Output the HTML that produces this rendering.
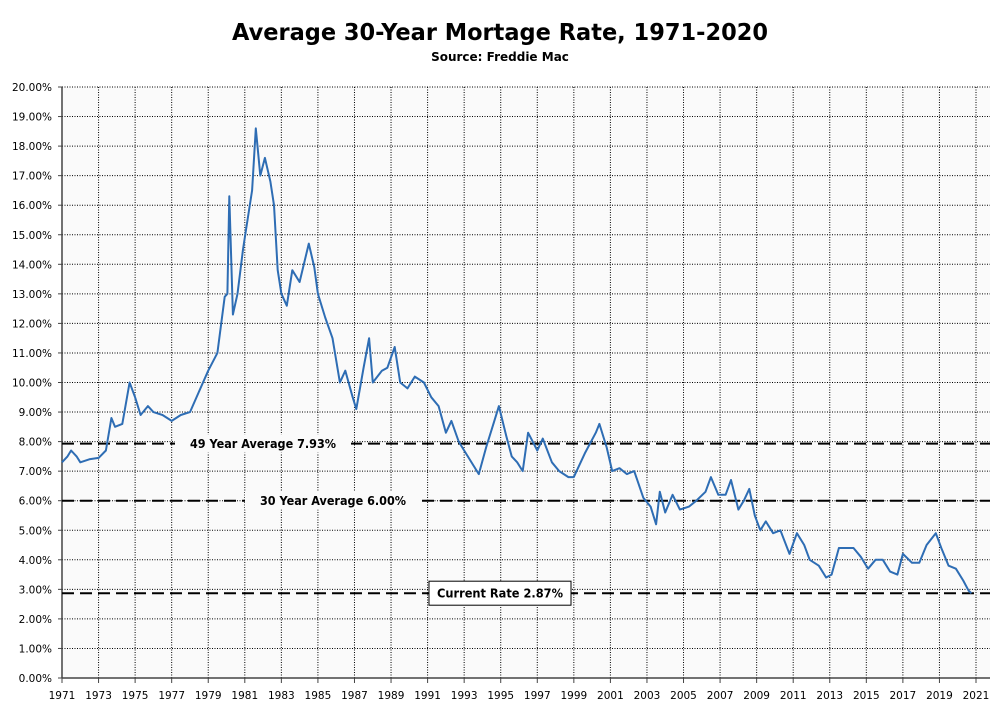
<!DOCTYPE html>
<html><head><meta charset="utf-8"><style>
body{margin:0;background:#fff;}
svg text{font-family:"DejaVu Sans","Liberation Sans",sans-serif;}
</style></head><body>
<svg id="chart" width="1000" height="710" viewBox="0 0 1000 710" xmlns="http://www.w3.org/2000/svg">
<text x="500" y="40" text-anchor="middle" font-size="23" font-weight="bold" textLength="536" lengthAdjust="spacingAndGlyphs">Average 30-Year Mortage Rate, 1971-2020</text>
<text x="500" y="61" text-anchor="middle" font-size="12" font-weight="bold">Source: Freddie Mac</text>
<rect x="62" y="87" width="928" height="591" fill="#fafafa"/>
<g id="grid"></g><g id="axes"></g><g id="refs"></g><g id="series"></g><g id="labels"></g>
</svg>
<script>
const years=[1971.0,1971.3,1971.5,1971.8,1972.0,1972.5,1973.0,1973.4,1973.7,1973.9,1974.3,1974.7,1975.0,1975.3,1975.7,1976.0,1976.5,1977.0,1977.5,1978.0,1978.5,1979.0,1979.5,1979.9,1980.05,1980.15,1980.35,1980.6,1980.9,1981.1,1981.4,1981.6,1981.85,1982.1,1982.4,1982.6,1982.8,1983.0,1983.3,1983.6,1984.0,1984.5,1984.8,1985.0,1985.4,1985.8,1986.2,1986.5,1986.9,1987.1,1987.5,1987.8,1988.0,1988.5,1988.8,1989.2,1989.5,1989.9,1990.3,1990.8,1991.2,1991.6,1992.0,1992.3,1992.7,1993.2,1993.8,1994.2,1994.6,1994.9,1995.3,1995.6,1995.9,1996.2,1996.5,1997.0,1997.3,1997.8,1998.2,1998.7,1999.0,1999.6,2000.2,2000.4,2000.8,2001.1,2001.5,2001.9,2002.3,2002.8,2003.2,2003.5,2003.7,2004.0,2004.4,2004.8,2005.3,2005.7,2006.2,2006.5,2006.9,2007.3,2007.6,2008.0,2008.3,2008.6,2008.9,2009.2,2009.5,2009.9,2010.3,2010.8,2011.2,2011.6,2011.9,2012.4,2012.8,2013.1,2013.5,2013.9,2014.3,2014.7,2015.1,2015.5,2015.9,2016.3,2016.7,2017.0,2017.5,2017.9,2018.3,2018.8,2019.1,2019.5,2019.9,2020.3,2020.6,2020.75];
const rates=[7.3,7.5,7.7,7.5,7.3,7.4,7.45,7.7,8.8,8.5,8.6,10.0,9.5,8.9,9.2,9.0,8.9,8.7,8.9,9.0,9.7,10.4,11.0,12.9,13.0,16.3,12.3,13.0,14.5,15.3,16.5,18.6,17.0,17.6,16.8,16.0,13.8,13.0,12.6,13.8,13.4,14.7,13.9,13.0,12.2,11.5,10.0,10.4,9.5,9.1,10.5,11.5,10.0,10.4,10.5,11.2,10.0,9.8,10.2,10.0,9.5,9.2,8.3,8.7,8.0,7.5,6.9,7.8,8.6,9.2,8.2,7.5,7.3,7.0,8.3,7.7,8.1,7.3,7.0,6.8,6.8,7.6,8.3,8.6,7.8,7.0,7.1,6.9,7.0,6.1,5.8,5.2,6.3,5.6,6.2,5.7,5.8,6.0,6.3,6.8,6.2,6.2,6.7,5.7,6.0,6.4,5.5,5.0,5.3,4.9,5.0,4.2,4.9,4.5,4.0,3.8,3.4,3.5,4.4,4.4,4.4,4.1,3.7,4.0,4.0,3.6,3.5,4.2,3.9,3.9,4.5,4.9,4.4,3.8,3.7,3.3,2.95,2.87];
const yTicks=[0,1,2,3,4,5,6,7,8,9,10,11,12,13,14,15,16,17,18,19,20];
const xTicks=[1971,1973,1975,1977,1979,1981,1983,1985,1987,1989,1991,1993,1995,1997,1999,2001,2003,2005,2007,2009,2011,2013,2015,2017,2019,2021];
const refValues=[7.93,6.00,2.87];
const refLabels=["49 Year Average 7.93%","30 Year Average 6.00%","Current Rate 2.87%"];
const NS="http://www.w3.org/2000/svg";
const X=v=>62+(v-1971)*18.28, Y=v=>678-v*29.55;
function mk(t,a,p){const e=document.createElementNS(NS,t);for(const k in a)e.setAttribute(k,a[k]);p.appendChild(e);return e;}
const grid=document.getElementById('grid'),axes=document.getElementById('axes');
yTicks.forEach(v=>{
 if(v>0){const l=mk('line',{x1:62,x2:990,y1:Y(v),y2:Y(v),stroke:'#000','stroke-width':1,'stroke-dasharray':'1,1.5'},grid);
 
 }
 const t=mk('text',{x:52,y:Y(v)+4,'text-anchor':'end','font-size':10.5},axes);t.textContent=v.toFixed(2)+'%';
 
 
 mk('line',{x1:58,x2:62,y1:Y(v),y2:Y(v),stroke:'#444'},axes);
});
xTicks.forEach(v=>{
 if(v>1971){const l=mk('line',{x1:X(v),x2:X(v),y1:87,y2:678,stroke:'#000','stroke-width':1,'stroke-dasharray':'1,1.5'},grid);
 
 }
 mk('line',{x1:X(v),x2:X(v),y1:678,y2:683,stroke:'#444'},axes);
 const t=mk('text',{x:X(v),y:699,'text-anchor':'middle','font-size':10.5},axes);t.textContent=v;
 
 
});
const ya=mk('line',{x1:62,x2:62,y1:87,y2:678,stroke:'#444','stroke-width':1.5},axes);


const xa=mk('line',{x1:62,x2:990,y1:678,y2:678,stroke:'#444','stroke-width':1.5},axes);


const refs=document.getElementById('refs'),labels=document.getElementById('labels');
const labelX=[263,333,500];
refValues.forEach((v,i)=>{
 const l=mk('line',{x1:62,x2:990,y1:Y(v),y2:Y(v),stroke:'#000','stroke-width':2,'stroke-dasharray':'12,6'},refs);
 
 
 if(i<2){
  mk('rect',{x:labelX[i]-88,y:Y(v)-9,width:176,height:18,fill:'#fafafa'},labels);
 } else {
  const b=mk('rect',{x:429,y:Y(v)-12,width:142,height:24,fill:'#fff',stroke:'#000','stroke-width':1},labels);
  
  
 }
 const t=mk('text',{x:labelX[i],y:Y(v)+4.5,'text-anchor':'middle','font-size':12,'font-weight':'bold',textLength:i<2?146:126,lengthAdjust:'spacingAndGlyphs'},labels);
 t.textContent=refLabels[i];
 
 
});
const p=mk('polyline',{points:years.map((y,i)=>X(y).toFixed(1)+','+Y(rates[i]).toFixed(1)).join(' '),fill:'none',stroke:'#2e6db4','stroke-width':2,'stroke-linejoin':'round'},document.getElementById('series'));


</script>
</body></html>
